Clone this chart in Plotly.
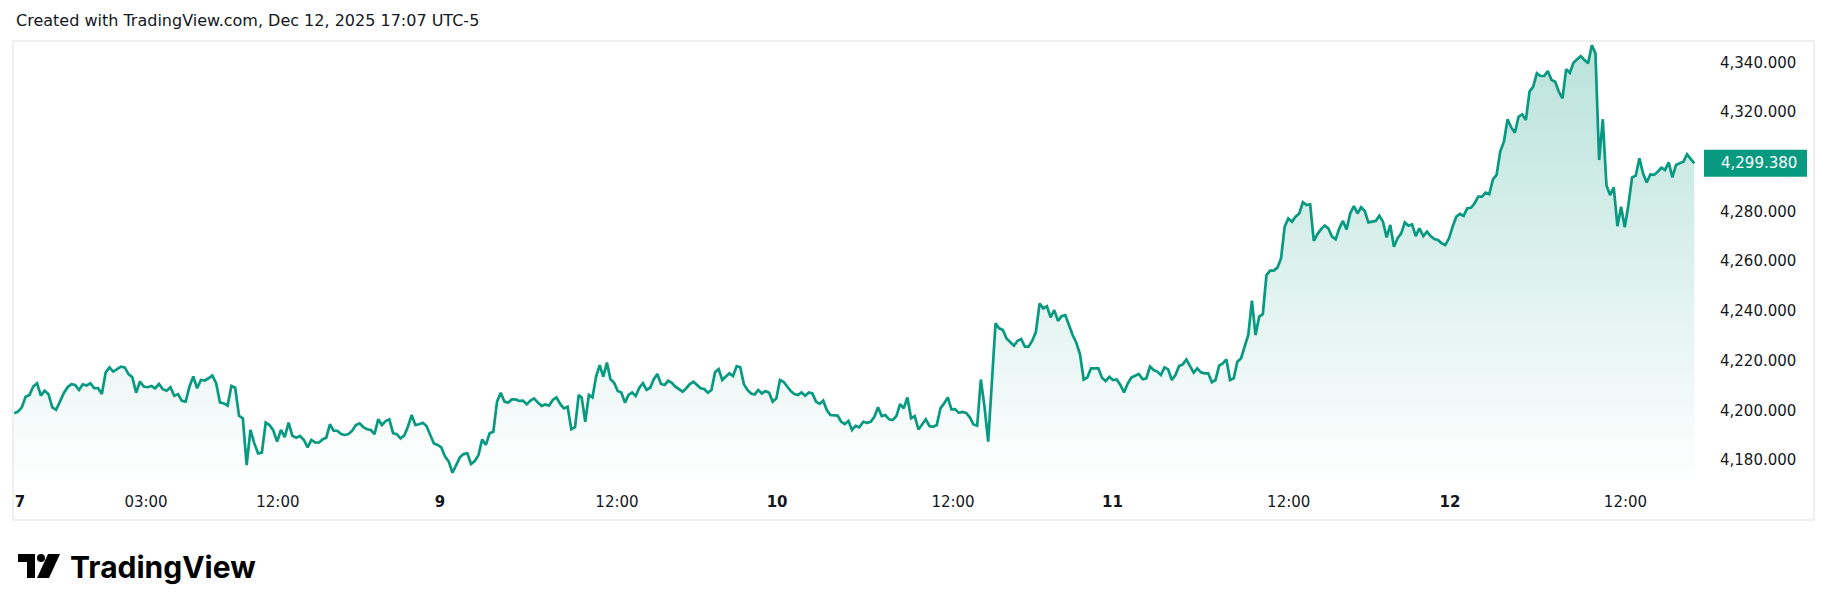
import plotly.graph_objects as go

# ---------------- data ----------------
prices_dec7_8 = [
    4198.8, 4199.5, 4201.2, 4205.5, 4206.2, 4209.6, 4210.9, 4205.9, 4207.9, 4206.5,
    4201.2, 4200.2, 4203.5, 4206.9, 4209.3, 4210.5, 4210.2, 4208.2, 4210.5, 4210.0,
    4210.9, 4208.9, 4208.9, 4206.6, 4215.2, 4217.3, 4215.6, 4216.7, 4217.6, 4217.3,
    4214.6, 4213.3, 4207.1, 4211.6, 4209.6, 4209.3, 4209.8, 4208.9, 4210.6, 4208.5,
    4207.9, 4209.3, 4205.9, 4206.5, 4203.8, 4203.5, 4209.6, 4213.6, 4208.9, 4212.2,
    4212.0, 4212.9, 4214.0, 4210.9, 4203.2, 4202.8, 4201.9, 4209.8, 4209.1, 4197.8,
    4196.8, 4178.0, 4192.1, 4186.8, 4182.7, 4183.0, 4195.1, 4194.1, 4191.9, 4187.4,
    4192.1, 4189.2, 4195.1, 4189.8, 4189.0, 4189.7,
]
prices_dec8_9 = [
    4188.1, 4185.1, 4188.1, 4187.1, 4187.0, 4188.3, 4189.0, 4194.4, 4191.8, 4191.8,
    4190.5, 4190.1, 4190.5, 4191.8, 4194.1, 4194.8, 4193.2, 4192.4, 4192.1, 4190.4,
    4196.4, 4194.1, 4195.7, 4196.4, 4190.8, 4190.4, 4188.7, 4189.8, 4193.4, 4198.1,
    4194.1, 4194.4, 4195.0, 4193.7, 4190.1, 4186.7, 4186.1, 4185.1, 4181.4, 4179.4,
    4174.9, 4178.0, 4181.1, 4182.4, 4182.7, 4178.4, 4179.6, 4182.0, 4188.3, 4186.1,
    4190.8, 4191.4, 4203.5, 4207.1, 4203.5, 4203.1, 4204.4, 4204.4, 4203.8, 4203.9,
    4202.4, 4203.9, 4204.8, 4203.1, 4201.8, 4202.4, 4201.9, 4204.2, 4205.2, 4202.6,
    4200.8, 4201.5, 4192.4, 4193.2, 4206.2,
]
prices_dec9_10 = [
    4205.2, 4195.4, 4206.2, 4205.2, 4213.6, 4218.2, 4213.6, 4219.2, 4212.5, 4211.1,
    4207.8, 4207.2, 4203.1, 4206.2, 4207.2, 4205.8, 4209.1, 4210.9, 4208.2, 4209.1,
    4212.5, 4214.6, 4210.6, 4210.2, 4211.9, 4211.1, 4209.5, 4208.5, 4207.5, 4208.9,
    4210.6, 4211.5, 4210.2, 4208.9, 4208.6, 4207.1, 4208.2, 4215.3, 4216.6, 4212.2,
    4213.6, 4214.9, 4213.8, 4217.8, 4217.3, 4210.5, 4208.2, 4206.8, 4206.4, 4208.2,
    4206.8, 4207.8, 4207.1, 4203.5, 4204.8, 4212.2, 4211.5, 4209.5, 4207.8, 4206.6,
    4206.2, 4207.2, 4205.9, 4207.2, 4206.8, 4203.5, 4202.6, 4203.9, 4200.1, 4198.1,
    4197.9, 4197.9, 4195.4, 4194.5, 4195.7, 4192.1, 4193.8, 4193.2,
]
prices_dec10_11 = [
    4195.4, 4195.0, 4195.4, 4197.4, 4201.2, 4197.7, 4198.1, 4196.4, 4196.1, 4197.7,
    4202.5, 4200.8, 4205.2, 4196.8, 4197.7, 4192.3, 4194.3, 4196.4, 4193.7, 4193.4,
    4194.1, 4200.8, 4202.8, 4205.2, 4200.4, 4200.5, 4199.0, 4199.4, 4199.0, 4197.2,
    4194.3, 4193.8, 4212.4, 4201.4, 4187.4, 4209.5, 4235.0, 4233.0, 4232.3, 4228.9,
    4227.6, 4226.0, 4228.0, 4228.7, 4225.6, 4225.6, 4228.0, 4231.6, 4243.0, 4241.0,
    4241.9, 4237.4, 4240.3, 4236.0, 4237.9, 4238.3, 4234.3, 4230.3, 4227.2, 4222.6,
    4212.4, 4213.2, 4216.9, 4216.9, 4216.9, 4213.1, 4211.8, 4213.5, 4212.2, 4212.4,
    4210.2, 4207.2, 4210.8, 4213.2, 4213.9, 4214.6,
]
prices_dec11_12 = [
    4212.5, 4212.9, 4217.6, 4216.2, 4215.6, 4214.2, 4217.3, 4216.5, 4212.2, 4214.2,
    4217.8, 4218.5, 4220.5, 4217.6, 4215.2, 4216.9, 4215.3, 4214.9, 4214.9, 4211.3,
    4212.2, 4218.0, 4218.9, 4220.5, 4212.2, 4212.9, 4219.6, 4220.9, 4225.6, 4230.3,
    4244.1, 4230.3, 4237.7, 4238.7, 4254.4, 4256.2, 4256.2, 4257.4, 4261.1, 4273.9,
    4277.2, 4275.9, 4277.9, 4279.2, 4283.7, 4282.6, 4282.9, 4268.2, 4270.9, 4272.9,
    4274.3, 4273.2, 4269.9, 4268.8, 4273.2, 4276.2, 4272.8, 4279.2, 4282.2, 4279.2,
    4281.7, 4280.2, 4275.6, 4275.9, 4276.2, 4278.3, 4275.9, 4269.6, 4274.6, 4265.8,
    4269.2, 4271.2, 4275.6, 4274.3, 4274.8, 4270.1, 4273.2,
]
prices_dec12 = [
    4270.1, 4271.9, 4270.1, 4268.9, 4268.5, 4267.2, 4266.5, 4269.2, 4273.9, 4277.9,
    4279.0, 4278.2, 4281.3, 4281.5, 4283.3, 4286.0, 4286.0, 4287.6, 4287.0, 4292.9,
    4294.7, 4304.1, 4308.1, 4317.1, 4313.8, 4311.7, 4318.1, 4319.1, 4316.8, 4328.2,
    4330.2, 4335.6, 4334.5, 4334.5, 4336.5, 4332.9, 4332.2, 4328.2, 4325.5, 4337.2,
    4335.8, 4339.8, 4341.2, 4342.5, 4340.9, 4339.6, 4346.9, 4343.6, 4300.7, 4317.1,
    4290.6, 4286.6, 4289.7, 4274.1, 4281.9, 4273.6, 4282.6, 4293.7, 4294.4, 4301.4,
    4295.3, 4291.7, 4294.9, 4294.7, 4296.0, 4297.6, 4296.7, 4299.8, 4293.7, 4298.7,
    4299.4, 4300.0, 4303.0, 4301.4, 4299.38,
]
segments = [prices_dec7_8, prices_dec8_9, prices_dec9_10,
            prices_dec10_11, prices_dec11_12, prices_dec12]
# time (trading hours since the first bar) of the first / last reading of each segment
segment_start_hours = [0.0, 19.78, 38.74, 57.97, 77.04, 96.20]
segment_end_hours = [19.51, 38.54, 57.69, 76.77, 95.93, 114.70]

last_price = 4299.38

# time-axis labels (position in trading hours since the first bar)
tick_hours = [0.4, 9.0, 18.0, 29.07, 41.15, 52.08, 64.09, 74.98, 87.01, 98.02, 110.0]
tick_labels = ["<b>7</b>", "03:00", "12:00", "<b>9</b>", "12:00", "<b>10</b>",
               "12:00", "<b>11</b>", "12:00", "<b>12</b>", "12:00"]

# price-scale labels
price_ticks = [4180, 4200, 4220, 4240, 4260, 4280, 4320, 4340]

title_text = "Created with TradingView.com, Dec 12, 2025 17:07 UTC-5"
brand_text = "TradingView"

# ---------------- build ----------------
hours, prices = [], []
for seg, h0, h1 in zip(segments, segment_start_hours, segment_end_hours):
    k = len(seg)
    for i, v in enumerate(seg):
        hours.append(h0 + (h1 - h0) * i / (k - 1))
        prices.append(v)

PAGE_OFF = 8                      # default body margin of the html page
W, H = 1822, 603
L, R, T, B = 6, 125, 34, 126
PW, PH = W - L - R, H - T - B
PX_PER_HOUR = 14.648
X_LO = (14 - 14.2) / PX_PER_HOUR
X_HI = X_LO + PW / PX_PER_HOUR
Y_LO, Y_HI = 4169.97, 4348.17
GREEN = "#089981"
TEXT = "#131722"
FONT = "DejaVu Sans"


def px_x(p):
    """page pixel -> paper x"""
    return (p - PAGE_OFF - L) / PW


def px_y(p):
    """page pixel -> paper y"""
    return (H - B - (p - PAGE_OFF)) / PH


fig = go.Figure()
fig.add_trace(go.Scatter(
    x=hours, y=prices, mode="lines",
    line=dict(color=GREEN, width=2.7),
    fill="tozeroy",
    fillgradient=dict(type="vertical", start=Y_LO, stop=Y_HI,
                      colorscale=[[0, "rgba(8,153,129,0.0)"],
                                  [1, "rgba(8,153,129,0.28)"]]),
    hoverinfo="skip", showlegend=False,
))

shapes = [
    # outer frame
    dict(type="rect", xref="paper", yref="paper",
         x0=px_x(13), x1=px_x(1814), y0=px_y(520), y1=px_y(41),
         line=dict(color="#efefef", width=2), fillcolor="rgba(0,0,0,0)",
         layer="below"),
    # last-price box
    dict(type="rect", xref="paper", yref="y", ysizemode="pixel",
         yanchor=last_price, y0=-13.5, y1=13.5,
         x0=px_x(1704), x1=px_x(1807),
         fillcolor=GREEN, line=dict(width=0)),
]


def poly(points):
    pts = [f"{px_x(x):.5f},{px_y(y):.5f}" for x, y in points]
    return "M" + " L".join(pts) + " Z"


# TradingView logo mark
lx, ly = 18, 554
shapes.append(dict(type="path", xref="paper", yref="paper",
                   path=poly([(lx, ly), (lx + 17, ly), (lx + 17, ly + 24),
                              (lx + 9, ly + 24), (lx + 9, ly + 8), (lx, ly + 8)]),
                   fillcolor="#000000", line=dict(width=0)))
shapes.append(dict(type="circle", xref="paper", yref="paper",
                   x0=px_x(lx + 19), x1=px_x(lx + 27),
                   y0=px_y(ly + 8), y1=px_y(ly),
                   fillcolor="#000000", line=dict(width=0)))
shapes.append(dict(type="path", xref="paper", yref="paper",
                   path=poly([(lx + 30, ly), (lx + 42, ly), (lx + 31, ly + 24),
                              (lx + 19, ly + 24)]),
                   fillcolor="#000000", line=dict(width=0)))

annotations = [
    dict(text=f"{last_price:,.3f}", xref="paper", yref="y",
         x=px_x(1719), y=last_price, xanchor="left", yanchor="middle",
         showarrow=False, font=dict(family=FONT, size=15, color="#ffffff")),
    dict(text=title_text, xref="paper", yref="paper",
         x=px_x(14), y=px_y(20), xanchor="left", yanchor="middle",
         showarrow=False, font=dict(family=FONT, size=16, color=TEXT)),
    dict(text=f"<b>{brand_text}</b>", xref="paper", yref="paper",
         x=px_x(68), y=px_y(567), xanchor="left", yanchor="middle",
         showarrow=False, font=dict(family="Inter", size=30, color="#000000")),
]

fig.update_layout(
    width=W, height=H,
    margin=dict(l=L, r=R, t=T, b=B, pad=0),
    paper_bgcolor="#ffffff", plot_bgcolor="#ffffff",
    shapes=shapes, annotations=annotations,
    showlegend=False,
    xaxis=dict(range=[X_LO, X_HI], showgrid=False, zeroline=False, showline=False,
               ticks="", tickmode="array", tickvals=tick_hours,
               ticktext=tick_labels, ticklabelstandoff=6,
               tickfont=dict(family=FONT, size=15, color=TEXT)),
    yaxis=dict(range=[Y_LO, Y_HI], side="right", showgrid=False,
               zeroline=False, showline=False, ticks="",
               tickmode="array", tickvals=price_ticks, tickformat=",.3f",
               ticklabelstandoff=14,
               tickfont=dict(family=FONT, size=15, color=TEXT)),
)

fig.write_html("out.html")
